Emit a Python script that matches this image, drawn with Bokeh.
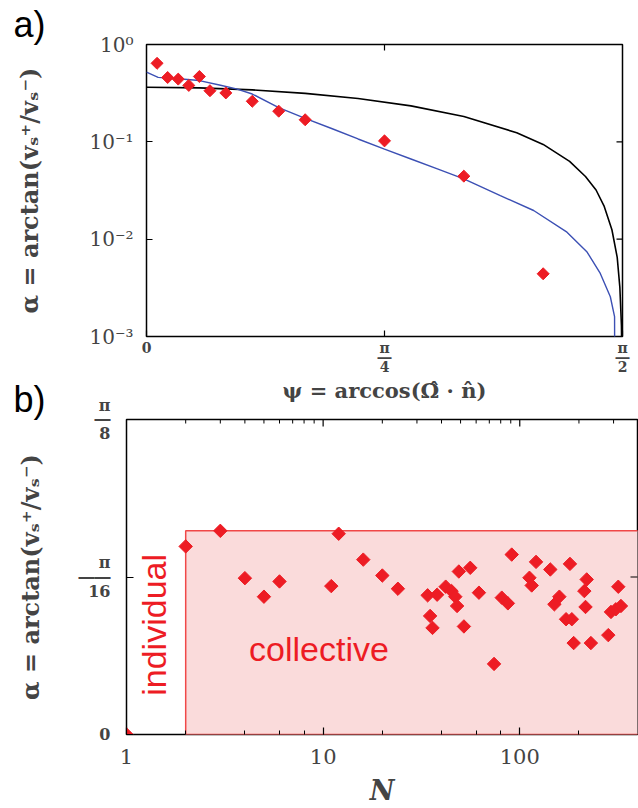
import numpy as np
from bokeh.plotting import figure
from bokeh.models import FixedTicker, LogTicker, Label, Range1d, BasicTickFormatter, Title
from bokeh.embed import file_html
from bokeh.resources import INLINE

# ---------------- panel a data ----------------
psi_pts_deg = [2, 4, 6, 8, 10, 12, 15, 20, 25, 30, 45, 60, 75]
alpha_pts = [0.641, 0.458, 0.441, 0.380, 0.469, 0.335, 0.318, 0.261, 0.2065,
             0.1686, 0.1023, 0.0444, 0.00441]

psi_black_deg = [0, 10, 20, 30, 40, 50, 60, 70, 75, 80, 83, 85, 86.5, 88, 89,
                 89.5, 89.8, 89.95]
alpha_black = [0.364, 0.358, 0.342, 0.315, 0.279, 0.234, 0.182, 0.124, 0.094,
               0.063, 0.044, 0.032, 0.022, 0.0125, 0.0065, 0.0032, 0.0013, 0.0003]

psi_blue_deg = [0, 2.2, 6, 10, 14, 17, 20, 25, 30, 35, 40, 45, 50, 55, 60, 66.9,
                73.2, 79.5, 83.3, 85.8, 87.7, 88.5, 88.55]
alpha_blue = [0.519, 0.460, 0.444, 0.426, 0.381, 0.350, 0.310, 0.225, 0.174,
              0.137, 0.107, 0.0842, 0.0666, 0.0527, 0.0417, 0.0280, 0.0197,
              0.0118, 0.00738, 0.00444, 0.00256, 0.00160, 0.0001]

psi_range = (0, 90)
alpha_a_range = (1e-3, 1.0)
psi_ticks = [0, 45, 90]
psi_tick_labels = ["0", "π\n―\n4", "π\n―\n2"]
psi_top_ticks = [45]
alpha_a_ticks = [0.001, 0.01, 0.1, 1.0]
alpha_a_labels = ["10⁻³", "10⁻²", "10⁻¹", "10⁰"]

# ---------------- panel b data ----------------
N_vals = [1, 2, 3, 4, 5, 6, 11, 12, 16, 20, 24, 34, 38, 42, 45, 47, 48, 35, 36,
          52, 49, 56, 62, 91, 81, 87, 74, 121, 112, 115, 143, 180, 219, 213, 216,
          159, 150, 172, 184, 188, 230, 282, 317, 291, 308, 327]
alpha_b = [0.0, 0.2345, 0.2539, 0.1949, 0.1718, 0.1908, 0.1850, 0.2503, 0.2180,
           0.1982, 0.1817, 0.1735, 0.1743, 0.1843, 0.1788, 0.1718, 0.1602, 0.1478,
           0.1329, 0.1347, 0.2032, 0.2078, 0.1768, 0.2243, 0.1706, 0.1635, 0.0880,
           0.2152, 0.1954, 0.1858, 0.2057, 0.2127, 0.1933, 0.1788, 0.1590, 0.1718,
           0.1623, 0.1437, 0.1437, 0.1140, 0.1140, 0.1239, 0.1842, 0.1528, 0.1561,
           0.1602]
collective_left = [2]
collective_right = [1000]
collective_top = [0.254]
collective_bottom = [0.0]

N_range = (1, 397)
alpha_b_range = (0, np.pi / 8)
alpha_b_ticks = [0.0, np.pi / 16, np.pi / 8]
alpha_b_labels = ["0", "π\n――\n16", "π\n―\n8"]
N_ticks_labels = {1: "1", 10: "10", 100: "100"}
N_top_major = [10, 100]
N_top_minor = [2, 3, 4, 5, 6, 7, 8, 9, 20, 30, 40, 50, 60, 70, 80, 90, 200, 300]
alpha_b_right_ticks = [np.pi / 16]

RED = "#ed1c24"
PINK = "#fadbdb"
BLUE = "#3c50b4"
MATH_FONT = "DejaVu Serif"
YLABEL = "α = arctan(vₛ⁺/vₛ⁻)"


def style_axis(ax, tick_in, minor_in=0):
    ax.axis_line_color = None
    ax.major_tick_out = 0
    ax.minor_tick_out = 0
    ax.major_tick_in = tick_in
    ax.minor_tick_in = minor_in
    ax.major_tick_line_color = "black"
    ax.minor_tick_line_color = "black"
    ax.major_tick_line_width = 1.2
    ax.minor_tick_line_width = 1.0


# ================= panel a =================
p1 = figure(width=638, height=405, x_range=Range1d(*psi_range),
            y_range=Range1d(*alpha_a_range), y_axis_type="log",
            output_backend="svg", toolbar_location=None,
            min_border_left=146, min_border_right=16, min_border_top=44,
            min_border_bottom=68)
p1.grid.visible = False
p1.outline_line_color = "black"
p1.outline_line_width = 1.5
p1.outline_line_alpha = 1.0

p1.line(psi_black_deg, alpha_black, line_color="black", line_width=1.6)
p1.line(psi_blue_deg, alpha_blue, line_color=BLUE, line_width=1.4)
p1.scatter(psi_pts_deg, alpha_pts, marker="square", angle=np.pi / 4, size=8.5,
           fill_color=RED, line_color=RED)
# inner ticks on the right and top edges (half of each dash is clipped by the frame)
p1.scatter([psi_range[1]] * len(alpha_a_ticks), alpha_a_ticks, marker="dash", size=12,
           line_color="black", line_width=1.2)
p1.scatter(psi_top_ticks, [alpha_a_range[1]] * len(psi_top_ticks), marker="dash",
           angle=np.pi / 2, size=12, line_color="black", line_width=1.2)

xa = p1.xaxis[0]
xa.ticker = FixedTicker(ticks=psi_ticks, minor_ticks=[])
xa.formatter = BasicTickFormatter()
xa.major_label_overrides = dict(zip(psi_ticks, psi_tick_labels))
xa.major_label_text_font = MATH_FONT
xa.major_label_text_font_style = "bold"
xa.major_label_text_font_size = "14px"
xa.major_label_text_line_height = 0.6
xa.major_label_standoff = 3
xa.axis_label = "ψ = arccos(Ω̂ · n̂)"
xa.axis_label_text_font = MATH_FONT
xa.axis_label_text_font_style = "bold"
xa.axis_label_text_font_size = "21px"
xa.axis_label_standoff = 0
style_axis(xa, 6)

ya = p1.yaxis[0]
ya.ticker = FixedTicker(ticks=alpha_a_ticks, minor_ticks=[])
ya.formatter = BasicTickFormatter()
ya.major_label_overrides = dict(zip(alpha_a_ticks, alpha_a_labels))
ya.major_label_text_font = MATH_FONT
ya.major_label_text_font_size = "20px"
ya.major_label_standoff = 13
ya.axis_label = YLABEL
ya.axis_label_text_font = MATH_FONT
ya.axis_label_text_font_style = "bold"
ya.axis_label_text_font_size = "24px"
ya.axis_label_standoff = 42
style_axis(ya, 6)

p1.add_layout(Title(text="a)", align="left", offset=-133, standoff=0,
                    text_font="Liberation Sans", text_font_style="normal",
                    text_font_size="36px", text_color="black"), "above")

# ================= panel b =================
p2 = figure(width=638, height=433, x_axis_type="log", x_range=Range1d(*N_range),
            y_range=Range1d(*alpha_b_range), output_backend="svg",
            toolbar_location=None, min_border_left=126, min_border_right=1,
            min_border_top=44, min_border_bottom=72,
            margin=(-30, 0, 0, 0))
p2.grid.visible = False
p2.border_fill_color = None
p2.outline_line_color = "black"
p2.outline_line_width = 1.5
p2.outline_line_alpha = 1.0

p2.quad(left=collective_left, right=collective_right, top=collective_top,
        bottom=collective_bottom, fill_color=PINK, line_color="#f04848", line_width=1.5)
p2.scatter(N_vals, alpha_b, marker="square", angle=np.pi / 4, size=9.5,
           fill_color=RED, line_color=RED)
# inner ticks on top and right edges
p2.scatter(N_top_major, [alpha_b_range[1]] * len(N_top_major), marker="dash",
           angle=np.pi / 2, size=14, line_color="black", line_width=1.2)
p2.scatter(N_top_minor, [alpha_b_range[1]] * len(N_top_minor), marker="dash",
           angle=np.pi / 2, size=8, line_color="black", line_width=1.0)
p2.scatter([N_range[1]] * len(alpha_b_right_ticks), alpha_b_right_ticks, marker="dash",
           size=14, line_color="black", line_width=1.2)

bx = p2.xaxis[0]
bx.ticker = LogTicker()
bx.formatter = BasicTickFormatter()
bx.major_label_overrides = N_ticks_labels
bx.major_label_text_font = MATH_FONT
bx.major_label_text_font_size = "21px"
bx.major_label_standoff = 14
bx.axis_label = "N"
bx.axis_label_text_font = MATH_FONT
bx.axis_label_text_font_style = "bold italic"
bx.axis_label_text_font_size = "27px"
bx.axis_label_standoff = 8
style_axis(bx, 7, 4)

by = p2.yaxis[0]
by.ticker = FixedTicker(ticks=alpha_b_ticks, minor_ticks=[])
by.formatter = BasicTickFormatter()
by.major_label_overrides = dict(zip(alpha_b_ticks, alpha_b_labels))
by.major_label_text_font = MATH_FONT
by.major_label_text_font_style = "bold"
by.major_label_text_font_size = "16px"
by.major_label_text_line_height = 0.75
by.major_label_standoff = 16
by.axis_label = YLABEL
by.axis_label_text_font = MATH_FONT
by.axis_label_text_font_style = "bold"
by.axis_label_text_font_size = "24px"
by.axis_label_standoff = 31
style_axis(by, 7)

p2.add_layout(Title(text="b)", align="left", offset=-113, standoff=0,
                    text_font="Liberation Sans", text_font_style="normal",
                    text_font_size="36px", text_color="black"), "above")

p2.add_layout(Label(x=1.72, y=0.0483, text="individual", angle=np.pi / 2,
                    text_font="Liberation Sans", text_font_size="34px",
                    text_color=RED, text_baseline="bottom", text_align="left"))
p2.add_layout(Label(x=4.2, y=0.083, text="collective",
                    text_font="Liberation Sans", text_font_size="34px",
                    text_color=RED, text_baseline="bottom", text_align="left"))

open("out.html", "w").write(file_html([p1, p2], INLINE))
